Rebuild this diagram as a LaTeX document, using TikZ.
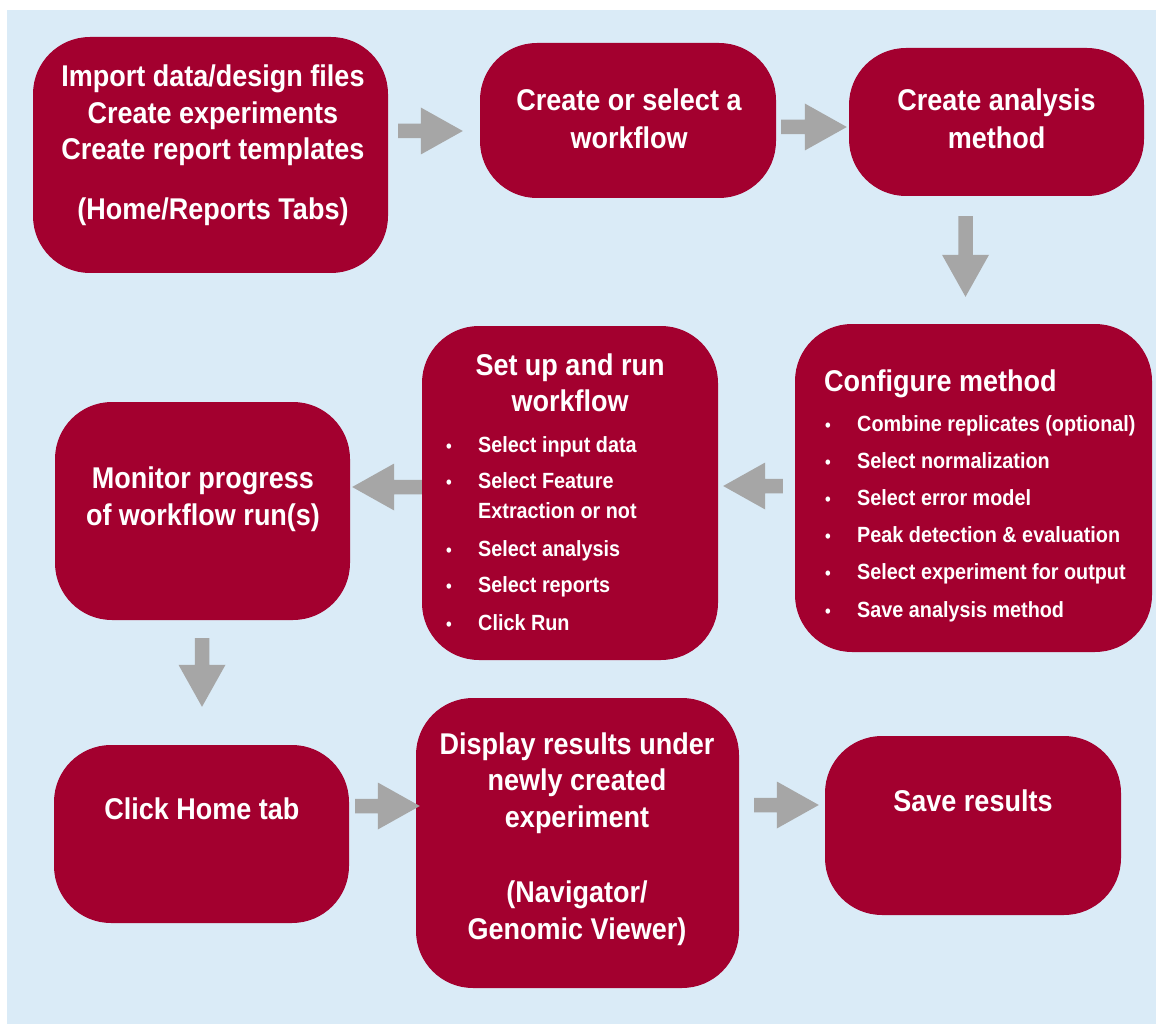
\documentclass[tikz,border=0pt]{standalone}
\usepackage{fontspec}
\newfontfamily\cf[FakeStretch=0.9]{Liberation Sans}
\usetikzlibrary{calc}
\definecolor{boxred}{HTML}{A3002F}
\definecolor{bgblue}{HTML}{DAEBF7}
\definecolor{arrowgray}{HTML}{A6A6A6}
\newcommand\blkarrow[2]{%
  \coordinate (ab) at ($(#2)!42pt!(#1)$);
  \fill[arrowgray] ($(#1)!7.25pt!90:(#2)$) -- ($(ab)!7.25pt!-90:(#1)$) -- ($(ab)!23.5pt!-90:(#1)$) -- (#2)
    -- ($(ab)!23.5pt!90:(#1)$) -- ($(ab)!7.25pt!90:(#1)$) -- ($(#1)!7.25pt!-90:(#2)$) -- cycle;}
\tikzset{
  box/.style={draw=none, fill=boxred, rounded corners=57pt, inner sep=0pt},
  hd/.style={text=white, font=\cf\bfseries\fontsize{30}{36}\selectfont, anchor=base, inner sep=0pt},
  bl/.style={text=white, font=\cf\bfseries\fontsize{22}{26}\selectfont, anchor=base west, inner sep=0pt},
  dot/.style={text=white, font=\cf\bfseries\fontsize{18}{22}\selectfont, anchor=base, inner sep=0pt},
}
\begin{document}
\begin{tikzpicture}[x=1pt,y=-1pt]
\useasboundingbox (0,0) rectangle (1156,1024);
\fill[white] (0,0) rectangle (1156,1024);
\fill[bgblue] (7,10) rectangle (1156,1024);
% boxes
\node[box, minimum width=355pt, minimum height=236pt] (A) at (210.5,155) {};
\node[box, minimum width=296pt, minimum height=155pt] (B) at (628,120.5) {};
\node[box, minimum width=295pt, minimum height=148pt] (C) at (996.5,122) {};
\node[box, minimum width=357pt, minimum height=328pt] (D) at (973.5,488) {};
\node[box, minimum width=296pt, minimum height=334pt] (E) at (570,493) {};
\node[box, minimum width=295pt, minimum height=218pt] (F) at (202.5,511) {};
\node[box, minimum width=295pt, minimum height=178pt] (G) at (201.5,834) {};
\node[box, minimum width=323pt, minimum height=290pt] (H) at (577.5,843) {};
\node[box, minimum width=296pt, minimum height=179pt] (I) at (973,825.5) {};
% texts A
\node[hd] (a1) at (213,87) {Import data/design files};
\node[hd] (a2) at (213,123.5) {Create experiments};
\node[hd] (a3) at (213,160) {Create report templates};
\node[hd] (a4) at (213,220) {(Home/Reports Tabs)};
% B, C
\node[hd] (b1) at (629,111) {Create or select a};
\node[hd] (b2) at (629,149) {workflow};
\node[hd] (c1) at (996.5,111) {Create analysis};
\node[hd] (c2) at (996.5,149) {method};
% D
\node[hd, anchor=base west] (d0) at (824,391) {Configure method};
\foreach \yy/\tt [count=\i] in {431/Combine replicates (optional), 468/Select normalization, 505.5/Select error model, 542.5/Peak detection \& evaluation, 579.5/Select experiment for output, 617/Save analysis method}{
  \node[dot] (dd\i) at (828,\yy) {•};
  \node[bl] (d\i) at (857,\yy) {\tt};
}
% E
\node[hd] (e0) at (570,375) {Set up and run};
\node[hd] (e00) at (570,411) {workflow};
\foreach \yy in {452,488.5,556,592.5,630}{
  \node[dot] at (449,\yy) {•};
}
\node[bl] (e1) at (478,452) {Select input data};
\node[bl] (e2) at (478,488.5) {Select Feature};
\node[bl] (e3) at (478,518.5) {Extraction or not};
\node[bl] (e4) at (478,556) {Select analysis};
\node[bl] (e5) at (478,592.5) {Select reports};
\node[bl] (e6) at (478,630) {Click Run};
% F, G
\node[hd] (f1) at (203,488.5) {Monitor progress};
\node[hd] (f2) at (203,525.5) {of workflow run(s)};
\node[hd] (g1) at (202,819) {Click Home tab};
% H
\node[hd] (h1) at (577,754) {Display results under};
\node[hd] (h2) at (577,790.5) {newly created};
\node[hd] (h3) at (577,827) {experiment};
\node[hd] (h4) at (577,902.5) {(Navigator/};
\node[hd] (h5) at (577,939) {Genomic Viewer)};
% I
\node[hd] (i1) at (973,811) {Save results};
% arrows
\coordinate (s1) at ($(A.east)+(10,-24)$);   \coordinate (t1) at ($(B.west)+(-17,10.5)$);
\coordinate (s2) at ($(B.east)+(5,6.5)$);    \coordinate (t2) at ($(C.west)+(-2,5)$);
\coordinate (s3) at ($(C.south)+(-31,20)$);  \coordinate (t3) at ($(D.north)+(-8,-27)$);
\coordinate (s4) at ($(D.west)+(-12,-2)$);   \coordinate (t4) at ($(E.east)+(5,-7)$);
\coordinate (s5) at ($(E.west)+(0,-6)$);     \coordinate (t5) at ($(F.east)+(2,-24)$);
\coordinate (s6) at ($(F.south)+(-0.5,18)$); \coordinate (t6) at ($(G.north)+(0.5,-38)$);
\coordinate (s7) at ($(G.east)+(6,-28)$);    \coordinate (t7) at ($(H.west)+(4,-37)$);
\coordinate (s8) at ($(H.east)+(15,-38)$);   \coordinate (t8) at ($(I.west)+(-6,-20.5)$);
\blkarrow{s1}{t1}
\blkarrow{s2}{t2}
\blkarrow{s3}{t3}
\blkarrow{s4}{t4}
\blkarrow{s5}{t5}
\blkarrow{s6}{t6}
\blkarrow{s7}{t7}
\blkarrow{s8}{t8}
\end{tikzpicture}
\end{document}
